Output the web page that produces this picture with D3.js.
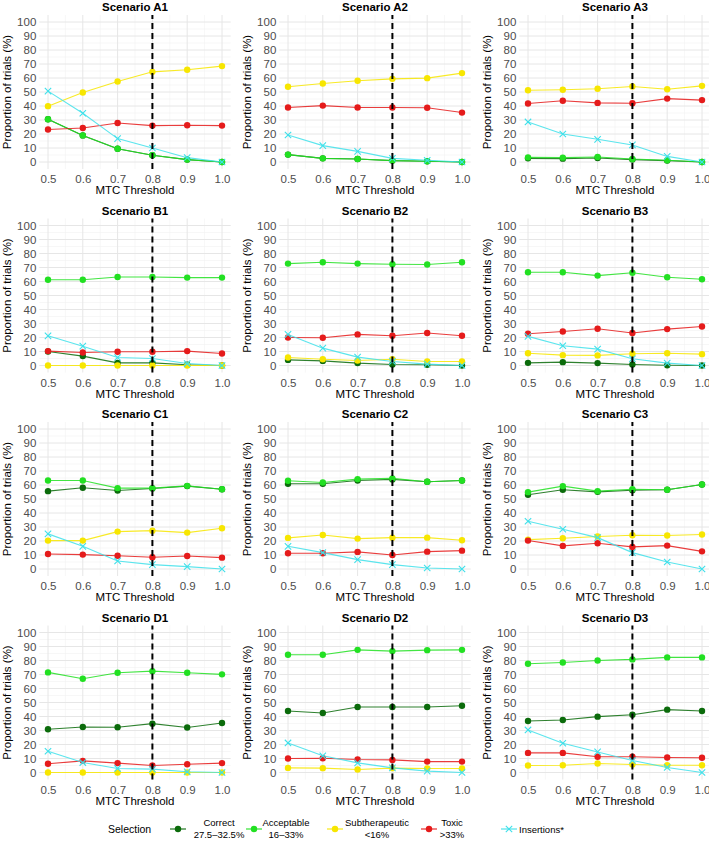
<!DOCTYPE html>
<html>
<head>
<meta charset="utf-8">
<script src="https://cdn.jsdelivr.net/npm/d3@7"></script>
<style>
  body { margin: 0; background: #fff; }
  text { font-family: "Liberation Sans", Arial, sans-serif; }
</style>
</head>
<body>
<div id="figure"></div>
<script>
// thresholds on the x axis and the twelve scenarios (panels, row by row)
const thresholds = [0.5, 0.6, 0.7, 0.8, 0.9, 1.0];
const scenarios = ["A1", "A2", "A3", "B1", "B2", "B3", "C1", "C2", "C3", "D1", "D2", "D3"];
const yTicks = [0, 10, 20, 30, 40, 50, 60, 70, 80, 90, 100];
const mtcLine = 0.8;

// one row per scenario, one value per threshold
const correct = [
  [30.5, 19, 9.5, 4.8, 1.7, 0],
  [5.3, 2.6, 2.1, 1, 0.5, 0],
  [2.6, 2.4, 2.9, 1.7, 1, 0],
  [10, 6.7, 1.9, 1.9, 0.5, 0],
  [4, 3.3, 1.7, 0.7, 0.5, 0],
  [1.9, 2.4, 1.7, 0.7, 0.2, 0],
  [55.6, 58, 56.1, 57.5, 59.2, 57],
  [60.9, 60.9, 63.2, 64, 62.3, 63.2],
  [53, 56.6, 55.1, 56.3, 56.6, 60.4],
  [30.9, 32.5, 32.3, 34.9, 32.1, 35.4],
  [43.9, 42.5, 46.8, 46.8, 46.8, 47.7],
  [36.8, 37.5, 39.9, 41.3, 44.9, 43.9]
];
const acceptable = [
  [30.5, 19, 9.5, 4.8, 1.7, 0],
  [5.3, 2.6, 2.1, 1, 0.5, 0],
  [3.3, 3.1, 3.6, 2.1, 1.2, 0],
  [61.3, 61.3, 63.2, 63.2, 62.8, 62.8],
  [72.8, 73.7, 72.8, 72.3, 72.1, 73.7],
  [66.6, 66.6, 64.2, 66.3, 63, 61.6],
  [63.2, 63.2, 57.8, 57.8, 59.4, 57],
  [63, 61.8, 64.2, 64.7, 62.3, 63.2],
  [54.9, 59.2, 55.6, 57, 56.6, 60.4],
  [71.5, 67, 71.3, 72.4, 71.3, 70.1],
  [84.1, 84.1, 87.6, 86.7, 87.4, 87.6],
  [77.7, 78.6, 80, 80.8, 82.2, 82.2]
];
const subtherapeutic = [
  [39.9, 49.6, 57.5, 64.4, 65.9, 68.5],
  [53.7, 56.1, 58, 59.4, 59.9, 63.5],
  [51.3, 51.6, 52.3, 53.9, 52, 54.4],
  [0, 0, 0, 0, 0, 0],
  [5.7, 4.5, 3.6, 4.5, 2.9, 2.9],
  [8.8, 7.4, 7.2, 8.4, 8.8, 8.1],
  [20.3, 20.3, 26.7, 27.4, 26, 29.1],
  [22.2, 24.3, 21.7, 22.4, 22.4, 20.5],
  [21, 22, 23.2, 24.1, 23.9, 24.6],
  [0, 0, 0, 0, 0, 0],
  [3.3, 3.1, 2.1, 3.1, 2.9, 2.9],
  [5, 5.2, 6.4, 5.7, 5.2, 5.2]
];
const toxic = [
  [23.2, 24.3, 27.9, 26, 26.3, 26],
  [38.9, 40.3, 38.9, 38.9, 38.7, 35.3],
  [41.8, 43.7, 42.2, 42, 45.3, 44.2],
  [10.3, 9.3, 9.8, 9.8, 10.3, 8.6],
  [20, 19.8, 22.2, 21.2, 23.2, 21.2],
  [22.7, 24.3, 26.3, 23.2, 26, 27.9],
  [10.7, 10.3, 9.5, 8.4, 9.3, 8.1],
  [11.2, 11.2, 12.2, 10, 12.4, 13.1],
  [20.3, 16.5, 18.4, 15.8, 16.7, 12.6],
  [6.2, 8.3, 6.7, 5, 5.9, 6.7],
  [10, 10.2, 9.3, 9, 7.8, 7.8],
  [14, 14, 11.2, 11.2, 10.7, 10.5]
];
const insertions = [
  [50.6, 34.8, 16.7, 10, 3.1, 0],
  [19.3, 11.7, 7.6, 2.6, 1.2, 0],
  [28.6, 20, 16.2, 12.2, 4, 0],
  [21.2, 13.8, 5.7, 5, 1.4, 0],
  [22.2, 12.4, 6, 2.9, 1, 0],
  [20.8, 14.1, 11.7, 4.8, 1.7, 0],
  [25.1, 16.2, 5.7, 3.1, 1.7, 0],
  [16.2, 11.7, 6.7, 3.1, 0.7, 0],
  [34.1, 28.4, 22.4, 11.7, 5, 0],
  [15.2, 7.1, 2.9, 2.4, 0.5, 0],
  [21.1, 11.9, 6.9, 3.3, 1, 0],
  [30.4, 20.9, 14.7, 8.6, 3.6, 0]
];

const legendTitle = "Selection";
const seriesNames = ["Correct", "Acceptable", "Subtherapeutic", "Toxic", "Insertions*"];
const seriesSub = ["27.5\u201332.5%", "16\u201333%", "<16%", ">33%", ""];
const seriesColors = ["#0b6b0b", "#22e022", "#f7e600", "#e51b1b", "#3ee0ea"];
const seriesData = [correct, acceptable, subtherapeutic, toxic, insertions];

const W = 709, H = 842;
const colW = 240, rowH = 203.5;

const svg = d3.select("#figure")
  .append("svg")
  .attr("width", W)
  .attr("height", H);

scenarios.forEach(function (name, i) {
  const col = i % 3, row = Math.floor(i / 3);
  const ox = col * colW, oy = row * rowH;

  const x = d3.scaleLinear().domain([0.475, 1.025]).range([ox + 39.3, ox + 230.7]);
  const y = d3.scaleLinear().domain([-5, 105]).range([oy + 169, oy + 15]);

  const g = svg.append("g");

  // grid (minor then major)
  const minorX = d3.range(0.55, 1.0, 0.1);
  const minorY = d3.range(5, 100, 10);
  g.selectAll(".minx").data(minorX).join("line")
    .attr("class", "minx")
    .attr("x1", d => x(d)).attr("x2", d => x(d))
    .attr("y1", y.range()[0]).attr("y2", y.range()[1])
    .attr("stroke", "#f1f1f1").attr("stroke-width", 0.6);
  g.selectAll(".miny").data(minorY).join("line")
    .attr("class", "miny")
    .attr("x1", x.range()[0]).attr("x2", x.range()[1])
    .attr("y1", d => y(d)).attr("y2", d => y(d))
    .attr("stroke", "#f1f1f1").attr("stroke-width", 0.6);
  g.selectAll(".majx").data(thresholds).join("line")
    .attr("class", "majx")
    .attr("x1", d => x(d)).attr("x2", d => x(d))
    .attr("y1", y.range()[0]).attr("y2", y.range()[1])
    .attr("stroke", "#e6e6e6").attr("stroke-width", 1);
  g.selectAll(".majy").data(yTicks).join("line")
    .attr("class", "majy")
    .attr("x1", x.range()[0]).attr("x2", x.range()[1])
    .attr("y1", d => y(d)).attr("y2", d => y(d))
    .attr("stroke", "#e6e6e6").attr("stroke-width", 1);

  // axes (labels only, theme_minimal style)
  const xAxis = g.append("g")
    .attr("transform", `translate(0,${oy + 169})`)
    .call(d3.axisBottom(x).tickValues(thresholds).tickFormat(d3.format(".1f")).tickSize(0).tickPadding(6));
  const yAxis = g.append("g")
    .attr("transform", `translate(${ox + 39.3},0)`)
    .call(d3.axisLeft(y).tickValues(yTicks).tickSize(0).tickPadding(3));
  [xAxis, yAxis].forEach(function (a) {
    a.select(".domain").remove();
    a.selectAll("text")
      .attr("fill", "#4d4d4d")
      .style("font-size", "11.5px")
      .style("font-family", "'Liberation Sans', Arial, sans-serif");
  });

  // series lines and points
  seriesData.forEach(function (arr, s) {
    const pts = thresholds.map((t, k) => ({ t: t, v: arr[i][k] }));
    g.append("path")
      .datum(pts)
      .attr("fill", "none")
      .attr("stroke", seriesColors[s])
      .attr("stroke-opacity", 0.85)
      .attr("stroke-width", 1.1)
      .attr("d", d3.line().x(d => x(d.t)).y(d => y(d.v)));
    if (s === 4) {
      g.selectAll(".ins").data(pts).join("path")
        .attr("class", "ins")
        .attr("d", d => {
          const cx = x(d.t), cy = y(d.v), r = 3.2;
          return `M${cx - r},${cy - r}L${cx + r},${cy + r}M${cx - r},${cy + r}L${cx + r},${cy - r}`;
        })
        .attr("stroke", seriesColors[s])
        .attr("stroke-width", 1.1)
        .attr("fill", "none");
    } else {
      g.selectAll(".pt" + s).data(pts).join("circle")
        .attr("class", "pt" + s)
        .attr("cx", d => x(d.t))
        .attr("cy", d => y(d.v))
        .attr("r", 3.2)
        .attr("fill", seriesColors[s]);
    }
  });

  // MTC threshold line
  g.append("line")
    .attr("x1", x(mtcLine)).attr("x2", x(mtcLine))
    .attr("y1", y.range()[0]).attr("y2", y.range()[1])
    .attr("stroke", "#000")
    .attr("stroke-width", 2)
    .attr("stroke-dasharray", "6,4");

  // titles
  const cx = (x.range()[0] + x.range()[1]) / 2;
  const cy = (y.range()[0] + y.range()[1]) / 2;
  g.append("text")
    .attr("x", cx).attr("y", oy + 11)
    .attr("text-anchor", "middle")
    .style("font-size", "11.5px")
    .style("font-weight", "bold")
    .text("Scenario " + name);
  g.append("text")
    .attr("x", cx).attr("y", oy + 194)
    .attr("text-anchor", "middle")
    .style("font-size", "11.5px")
    .text("MTC Threshold");
  g.append("text")
    .attr("transform", `translate(${ox + 11},${cy}) rotate(-90)`)
    .attr("text-anchor", "middle")
    .style("font-size", "11.5px")
    .text("Proportion of trials (%)");
});

// legend
const legY = 829;
const lg = svg.append("g");
lg.append("text")
  .attr("x", 108).attr("y", legY + 4)
  .style("font-size", "10.5px")
  .text(legendTitle);
const keyX = [178, 254, 335, 429, 509];
const labX = [219, 286, 377, 452, 519];
seriesNames.forEach(function (nm, s) {
  lg.append("line")
    .attr("x1", keyX[s] - 8).attr("x2", keyX[s] + 8)
    .attr("y1", legY).attr("y2", legY)
    .attr("stroke", seriesColors[s]).attr("stroke-width", 1.1);
  if (s === 4) {
    const r = 3.2;
    lg.append("path")
      .attr("d", `M${keyX[s] - r},${legY - r}L${keyX[s] + r},${legY + r}M${keyX[s] - r},${legY + r}L${keyX[s] + r},${legY - r}`)
      .attr("stroke", seriesColors[s]).attr("stroke-width", 1.1);
  } else {
    lg.append("circle")
      .attr("cx", keyX[s]).attr("cy", legY).attr("r", 3.2)
      .attr("fill", seriesColors[s]);
  }
  if (seriesSub[s]) {
    lg.append("text").attr("x", labX[s]).attr("y", legY - 3)
      .attr("text-anchor", "middle").style("font-size", "9.5px").text(nm);
    lg.append("text").attr("x", labX[s]).attr("y", legY + 8.5)
      .attr("text-anchor", "middle").style("font-size", "9.5px").text(seriesSub[s]);
  } else {
    lg.append("text").attr("x", labX[s]).attr("y", legY + 3.5)
      .attr("text-anchor", "start").style("font-size", "9.5px").text(nm);
  }
});
</script>
</body>
</html>
